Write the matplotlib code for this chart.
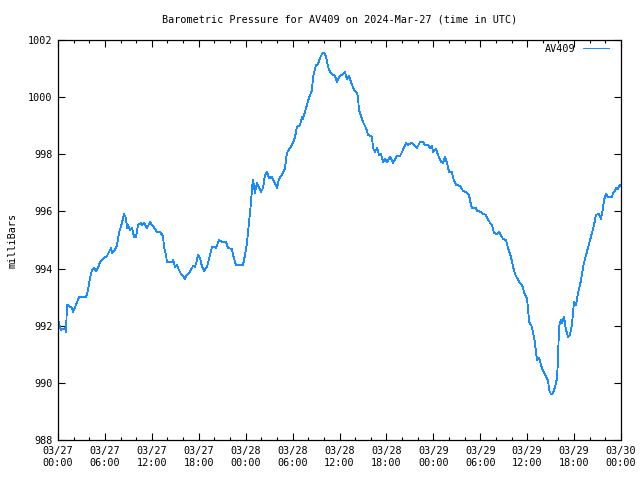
import matplotlib
matplotlib.use("Agg")
import matplotlib.pyplot as plt
from matplotlib.ticker import MultipleLocator
from matplotlib.lines import Line2D

# hours since 2024-03-27 00:00 UTC
hours = [0.00, 0.38, 0.90, 1.02, 1.15, 1.79, 1.92, 2.30, 2.69, 3.58,
         3.84, 4.09, 4.35, 4.60, 4.86, 5.12, 5.37, 5.88, 6.27, 6.52,
         6.78, 6.91, 7.29, 7.55, 7.80, 8.18, 8.44, 8.70, 8.82, 8.95,
         9.21, 9.46, 9.72, 9.98, 10.23, 10.61, 10.74, 11.00, 11.38, 11.77,
         12.02, 12.28, 12.66, 13.04, 13.43, 13.56, 13.81, 13.94, 14.58, 14.71,
         14.96, 15.22, 15.35, 15.73, 15.99, 16.24, 16.50, 16.75, 17.14, 17.27,
         17.52, 17.78, 17.90, 18.16, 18.42, 18.67, 19.06, 19.31, 19.70, 19.95,
         20.21, 20.59, 20.97, 21.49, 21.74, 22.25, 22.38, 22.76, 23.66, 23.92,
         24.17, 24.43, 24.68, 24.81, 24.94, 25.19, 25.45, 25.96, 26.22, 26.47,
         26.73, 26.98, 27.37, 28.01, 28.26, 28.77, 29.03, 29.28, 29.67, 30.05,
         30.31, 30.56, 30.95, 31.21, 31.33, 31.59, 31.84, 32.10, 32.48, 32.61,
         33.00, 33.25, 33.51, 33.76, 34.02, 34.27, 34.53, 34.79, 35.17, 35.43,
         35.68, 35.94, 36.45, 36.70, 36.96, 37.22, 37.60, 37.86, 38.24, 38.37,
         38.49, 39.01, 39.39, 39.65, 40.16, 40.28, 40.54, 40.80, 41.05, 41.31,
         41.56, 41.82, 42.08, 42.46, 42.84, 43.36, 43.74, 44.12, 44.51, 44.76,
         45.27, 45.91, 46.30, 46.68, 46.94, 47.32, 47.58, 47.83, 47.96, 48.34,
         48.60, 48.98, 49.24, 49.49, 49.75, 50.01, 50.39, 50.52, 50.90, 51.41,
         51.80, 52.18, 52.56, 52.82, 52.95, 53.46, 53.59, 54.10, 54.35, 54.74,
         54.87, 55.25, 55.50, 55.76, 56.14, 56.40, 56.78, 56.91, 57.29, 57.55,
         57.93, 58.19, 58.45, 58.70, 59.08, 59.47, 59.60, 59.98, 60.11, 60.24,
         60.62, 60.75, 61.00, 61.13, 61.26, 61.51, 61.90, 62.15, 62.41, 62.67,
         62.79, 63.05, 63.31, 63.56, 63.82, 63.94, 64.07, 64.33, 64.45, 64.58,
         64.71, 64.97, 65.22, 65.48, 65.73, 65.86, 65.99, 66.25, 66.50, 66.76,
         67.01, 67.14, 67.53, 67.78, 68.04, 68.29, 68.55, 68.80, 69.19, 69.44,
         69.70, 69.83, 70.08, 70.34, 70.85, 70.98, 71.23, 71.36, 71.62, 71.87,
         72.00]

# pressure in millibars
pressure = [992.20, 991.85, 991.92, 991.78, 992.73, 992.62, 992.48, 992.73, 993.00, 993.00,
            993.25, 993.67, 993.95, 994.02, 993.92, 994.02, 994.23, 994.37, 994.44, 994.58,
            994.72, 994.55, 994.65, 994.83, 995.25, 995.60, 995.91, 995.77, 995.42, 995.53,
            995.35, 995.42, 995.11, 995.11, 995.53, 995.60, 995.53, 995.60, 995.42, 995.63,
            995.53, 995.42, 995.28, 995.28, 995.14, 994.76, 994.48, 994.23, 994.23, 994.30,
            994.06, 994.13, 994.02, 993.81, 993.74, 993.64, 993.78, 993.85, 994.02, 994.09,
            994.06, 994.30, 994.48, 994.37, 994.06, 993.92, 994.06, 994.34, 994.76, 994.76,
            994.72, 995.00, 994.93, 994.93, 994.72, 994.69, 994.48, 994.13, 994.13, 994.48,
            994.90, 995.63, 996.30, 996.82, 997.10, 996.65, 996.99, 996.68, 996.82, 997.28,
            997.38, 997.17, 997.20, 996.82, 997.14, 997.35, 997.52, 998.05, 998.22, 998.40,
            998.60, 998.96, 999.03, 999.31, 999.24, 999.48, 999.73, 999.97, 1000.25, 1000.71,
            1001.12, 1001.16, 1001.37, 1001.51, 1001.55, 1001.44, 1001.06, 1000.88, 1000.78, 1000.74,
            1000.53, 1000.71, 1000.81, 1000.88, 1000.63, 1000.74, 1000.43, 1000.25, 1000.15, 999.97,
            999.55, 999.13, 998.92, 998.68, 998.61, 998.22, 998.08, 998.22, 997.98, 998.01,
            997.73, 997.84, 997.73, 997.91, 997.70, 997.94, 997.94, 998.15, 998.40, 998.33,
            998.40, 998.22, 998.43, 998.43, 998.33, 998.33, 998.22, 998.29, 998.08, 998.19,
            997.98, 997.73, 997.70, 997.91, 997.70, 997.38, 997.38, 997.17, 996.93, 996.89,
            996.72, 996.68, 996.58, 996.22, 996.12, 996.12, 996.02, 995.98, 995.91, 995.88,
            995.77, 995.60, 995.53, 995.25, 995.21, 995.28, 995.11, 995.03, 995.00, 994.72,
            994.41, 994.06, 993.81, 993.67, 993.50, 993.36, 993.15, 992.94, 992.62, 992.13,
            991.96, 991.75, 991.40, 991.05, 990.80, 990.87, 990.52, 990.35, 990.21, 990.10,
            989.75, 989.61, 989.64, 989.85, 990.17, 990.80, 991.96, 992.20, 992.10, 992.20,
            992.31, 991.85, 991.61, 991.68, 992.03, 992.45, 992.83, 992.73, 993.15, 993.43,
            993.78, 994.06, 994.48, 994.72, 995.00, 995.25, 995.53, 995.88, 995.91, 995.74,
            996.12, 996.40, 996.61, 996.51, 996.51, 996.65, 996.72, 996.82, 996.79, 996.93,
            996.89]

tick_hours = [0, 6, 12, 18, 24, 30, 36, 42, 48, 54, 60, 66, 72]
tick_labels = ["03/27\n00:00", "03/27\n06:00", "03/27\n12:00", "03/27\n18:00",
               "03/28\n00:00", "03/28\n06:00", "03/28\n12:00", "03/28\n18:00",
               "03/29\n00:00", "03/29\n06:00", "03/29\n12:00", "03/29\n18:00",
               "03/30\n00:00"]
y_ticks = [988, 990, 992, 994, 996, 998, 1000, 1002]

FONT = "DejaVu Sans Mono"
FS = 7.3
color = "#1a8cff"

fig = plt.figure(figsize=(6.4, 4.8), dpi=100)
ax = fig.add_axes([58 / 640, 1 - 440 / 480, (621 - 58) / 640, 400 / 480])
ax.plot(hours, pressure, color=color, lw=0.6, antialiased=False)
ax.set_xlim(0, 72)
ax.set_ylim(988, 1002)
ax.set_xticks(tick_hours)
ax.set_xticklabels(tick_labels, fontfamily=FONT, fontsize=FS, linespacing=1.35)
ax.set_yticks(y_ticks)
ax.set_yticklabels([str(v) for v in y_ticks], fontfamily=FONT, fontsize=FS)
ax.xaxis.set_minor_locator(MultipleLocator(2))
ax.tick_params(which="major", direction="in", length=5, width=0.8, top=True, right=True, pad=4,
               color="black")
ax.tick_params(which="minor", direction="in", length=2.5, width=0.8, top=True, right=False)
ax.tick_params(axis="y", which="minor", left=False, right=False)
for s in ax.spines.values():
    s.set_linewidth(0.9)
ax.set_ylabel("milliBars", fontfamily=FONT, fontsize=FS)
ax.yaxis.set_label_coords(-0.072, 0.5)
fig.text((58 + 621) / 2 / 640, 1 - 20 / 480,
         "Barometric Pressure for AV409 on 2024-Mar-27 (time in UTC)",
         ha="center", va="center", fontfamily=FONT, fontsize=FS)

# legend (gnuplot style key, top right)
fig.text(575 / 640, 1 - 49 / 480, "AV409", ha="right", va="center", fontfamily=FONT, fontsize=FS)
fig.add_artist(Line2D([583 / 640, 609 / 640], [1 - 48 / 480, 1 - 48 / 480], color=color, lw=0.6,
                      antialiased=False, transform=fig.transFigure))

fig.savefig("out.png", dpi=100)
